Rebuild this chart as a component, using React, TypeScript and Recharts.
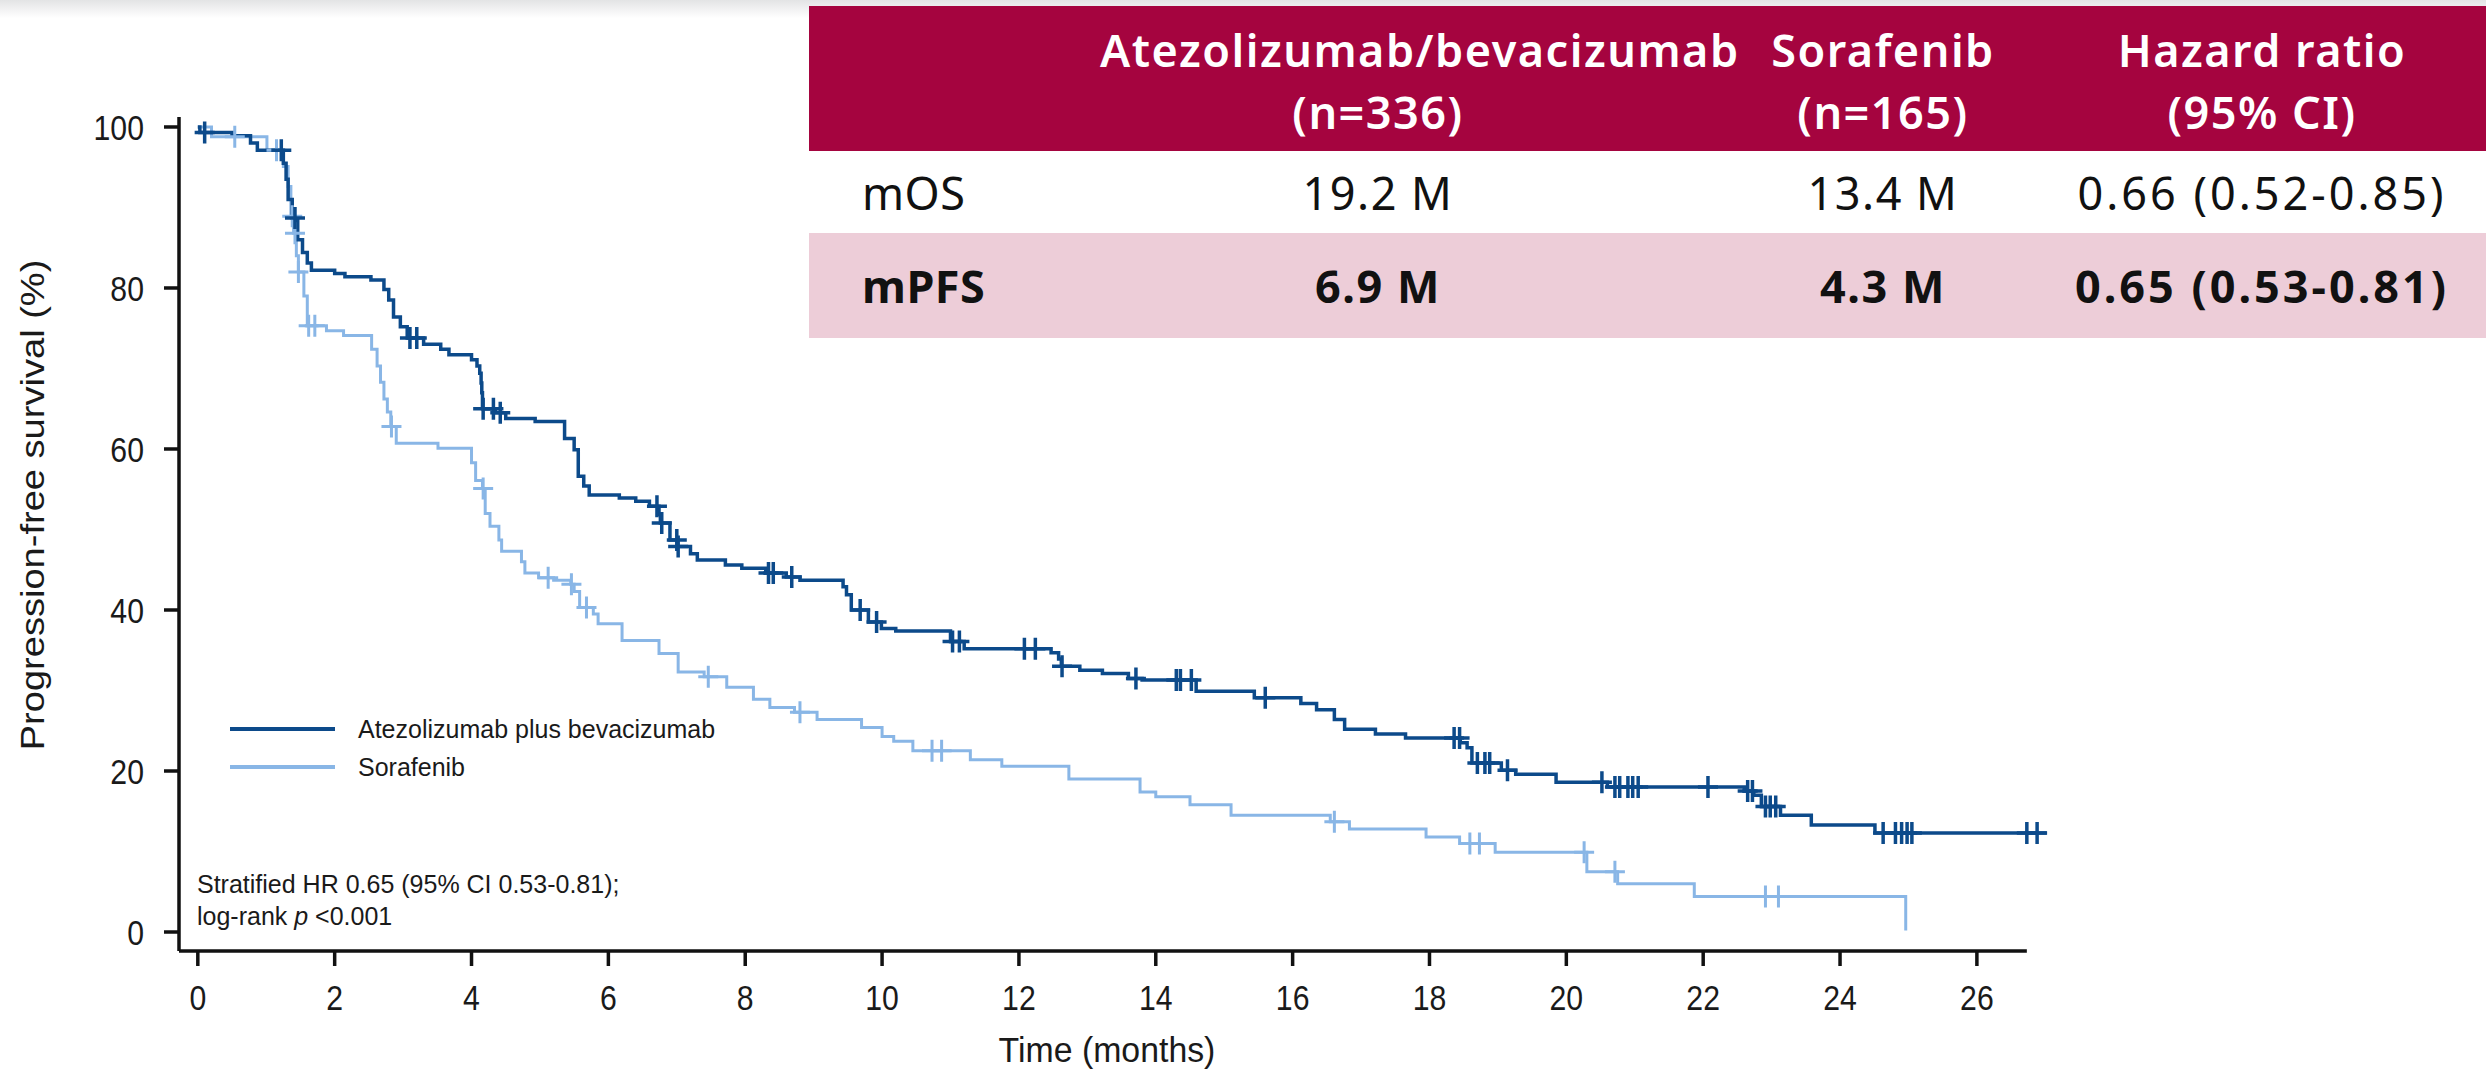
import React from "react";
import { ComposedChart, Line, XAxis, YAxis, ReferenceLine, Legend, Label } from "recharts";

// Kaplan-Meier step points (time in months, PFS %)
const atezoTime = [
  0, 0.03, 0.5, 0.77, 0.87, 1.25, 1.29, 1.32, 1.38, 1.46, 1.53, 1.6, 1.66, 2.0, 2.15, 2.53, 2.72, 2.79, 2.86, 2.96,
  3.06, 3.3, 3.55, 3.67, 4.0, 4.08, 4.12, 4.14, 4.15, 4.16, 4.35, 4.5, 4.93, 5.36, 5.5, 5.56, 5.64, 5.72, 6.16, 6.4,
  6.6, 6.74, 6.76, 6.9, 7.01, 7.2, 7.3, 7.71, 7.95, 8.3, 8.6, 8.8, 9.43, 9.48, 9.55, 9.8, 9.99, 10.2, 11.0, 11.2,
  12.47, 12.58, 12.62, 12.89, 13.22, 13.6, 13.8, 14.59, 15.44, 16.12, 16.35, 16.61, 16.76, 17.21, 17.65, 18.45, 18.55,
  18.62, 19.05, 19.26, 19.85, 20.6, 22.6, 22.74, 22.85, 23.13, 23.58, 24.51, 27.02,
];
const atezoSurv = [
  100, 99.3, 98.9, 98.0, 97.1, 95.5, 93.5, 91.0, 88.7, 86.0, 84.4, 83.1, 82.2, 81.8, 81.4, 81.0, 79.8, 78.5, 76.4, 75.2,
  73.8, 73.0, 72.4, 71.7, 71.1, 70.3, 69.4, 68.2, 67.0, 65.0, 64.5, 63.8, 63.4, 61.3, 59.9, 56.6, 55.4, 54.3, 53.9, 53.5,
  52.9, 51.9, 50.8, 48.7, 47.9, 47.0, 46.2, 45.6, 45.2, 44.6, 44.1, 43.7, 42.9, 41.9, 40.0, 38.5, 37.7, 37.4, 36.1, 35.2,
  34.7, 33.9, 33.0, 32.5, 32.1, 31.5, 31.3, 29.9, 29.1, 28.4, 27.6, 26.4, 25.2, 24.6, 24.1, 23.5, 22.9,
  21.0, 20.1, 19.6, 18.6, 18.0, 17.5, 17.0, 15.6, 14.5, 13.3, 12.3, 12.3,
];
const atezoCensor = [
  0.1, 1.22, 1.42, 3.1, 3.2, 4.17, 4.32, 4.42, 6.71, 6.78, 7.0, 7.02, 8.34, 8.41, 8.68, 9.68, 9.92, 11.03, 11.13,
  12.08, 12.24, 12.63, 13.71, 14.3, 14.36, 14.52, 15.6, 18.36, 18.44, 18.7, 18.81, 18.88, 19.14, 20.52, 20.71, 20.78,
  20.9, 20.97, 21.05, 22.07, 22.65, 22.72, 22.91, 22.98, 23.06, 24.63, 24.81, 24.9, 24.98, 25.05, 26.73, 26.88,
];

const soraTime = [
  0, 0.2, 1.01, 1.25, 1.32, 1.36, 1.4, 1.44, 1.47, 1.55, 1.6, 1.88, 2.13, 2.54, 2.62, 2.67, 2.72, 2.77, 2.82, 2.9,
  3.51, 4.0, 4.06, 4.16, 4.2, 4.27, 4.4, 4.44, 4.73, 4.78, 4.98, 5.2, 5.45, 5.5, 5.58, 5.78, 5.85, 6.2, 6.74, 7.02,
  7.4, 7.73, 8.12, 8.36, 8.72, 9.05, 9.7, 10.0, 10.17, 10.45, 11.29, 11.75, 12.73, 13.77, 14.0, 14.5, 15.1, 16.55,
  16.83, 17.95, 18.44, 18.96, 20.3, 20.75, 21.87, 24.96,
];
const soraSurv = [
  100, 98.8, 97.1, 95.1, 92.6, 88.9, 86.8, 84.0, 82.0, 79.0, 75.3, 74.7, 74.1, 72.4, 70.3, 68.3, 66.2, 64.6, 62.8, 60.7,
  60.1, 58.3, 56.1, 55.1, 52.0, 50.4, 48.7, 47.3, 46.0, 44.6, 44.0, 43.7, 43.2, 42.3, 40.3, 39.5, 38.3, 36.2, 34.6, 32.3,
  31.7, 30.4, 28.9, 27.9, 27.3, 26.4, 25.4, 24.3, 23.7, 22.5, 21.4, 20.6, 19.0, 17.4, 16.8, 15.8, 14.5, 13.7,
  12.8, 11.8, 11.0, 9.9, 7.5, 6.0, 4.4, 0.2,
];
const soraCensor = [
  0.54, 1.15, 1.38, 1.42, 1.47, 1.62, 1.71, 2.83, 4.17, 5.12, 5.46, 5.68, 7.46, 8.8, 10.73, 10.87, 16.61, 18.59,
  18.73, 20.26, 20.71, 22.91, 23.1,
];

const xTicks = [0, 2, 4, 6, 8, 10, 12, 14, 16, 18, 20, 22, 24, 26];
const yTicks = [0, 20, 40, 60, 80, 100];

const tableHead = [
  ["Atezolizumab/bevacizumab", "(n=336)"],
  ["Sorafenib", "(n=165)"],
  ["Hazard ratio", "(95% CI)"],
];
const mosRow = ["mOS", "19.2 M", "13.4 M", "0.66 (0.52-0.85)"];
const mpfsRow = ["mPFS", "6.9 M", "4.3 M", "0.65 (0.53-0.81)"];

const darkBlue = "#0c4a8a";
const lightBlue = "#89b6e6";
const crimson = "#a5043f";
const pink = "#edcdd8";
const chartFont = "'Liberation Sans', Arial, sans-serif";
const tableFont = "'Noto Sans', 'Open Sans', sans-serif";

// merge the step points with the censor marks (a censor mark sits on the curve)
const buildSeries = (time: number[], surv: number[], censor: number[]) => {
  const pts = time.map((t, i) => ({ t, s: surv[i], c: false }));
  censor.forEach((ct) => {
    let s = surv[0];
    time.forEach((t, i) => {
      if (t <= ct) s = surv[i];
    });
    pts.push({ t: ct, s, c: true });
  });
  return pts.sort((a, b) => a.t - b.t || (a.c ? 1 : -1));
};

const atezoData = buildSeries(atezoTime, atezoSurv, atezoCensor);
const soraData = buildSeries(soraTime, soraSurv, soraCensor);

const censorDot = (color: string, w: number) => (props: any) => {
  const { cx, cy, payload, index } = props;
  if (!payload || !payload.c) return <g key={`n-${index}`} />;
  return (
    <path
      key={`c-${index}`}
      d={`M${cx - 10},${cy}H${cx + 10}M${cx},${cy - 11}V${cy + 11}`}
      stroke={color}
      strokeWidth={w}
      fill="none"
    />
  );
};

const XTick = ({ x, y, payload }: any) => (
  <g transform={`translate(${x},${y})`}>
    <text transform="scale(0.84,1)" y={28} textAnchor="middle" fontFamily={chartFont} fontSize={36} fill="#1a1a1a">
      {payload.value}
    </text>
  </g>
);

const YTick = ({ x, y, payload }: any) => (
  <g transform={`translate(${x},${y})`}>
    <text transform="scale(0.84,1)" y={13} textAnchor="end" fontFamily={chartFont} fontSize={36} fill="#1a1a1a">
      {payload.value}
    </text>
  </g>
);

const renderLegend = () => (
  <svg width={560} height={80} style={{ display: "block" }}>
    <line x1={0} x2={105} y1={19} y2={19} stroke={darkBlue} strokeWidth={4} />
    <line x1={0} x2={105} y1={57} y2={57} stroke={lightBlue} strokeWidth={4} />
    <text x={128} y={28} fontFamily={chartFont} fontSize={25} fill="#1a1a1a">
      Atezolizumab plus bevacizumab
    </text>
    <text x={128} y={66} fontFamily={chartFont} fontSize={25} fill="#1a1a1a">
      Sorafenib
    </text>
  </svg>
);

const headCell: React.CSSProperties = {
  textAlign: "center",
  color: "#fff",
  fontWeight: 600,
  lineHeight: "62px",
  whiteSpace: "nowrap",
};
const colWidths = [291, 556, 454, 304, 72];
const colSpacing = [0.5, 1.5, 1.5, 3, 0];

const BodyRow = ({ cells, bold, bg, height }: { cells: string[]; bold: boolean; bg: string; height: number }) => (
  <div style={{ display: "flex", alignItems: "center", height, background: bg, fontWeight: bold ? 700 : 400 }}>
    {cells.map((c, i) => (
      <div
        key={c}
        style={{
          width: colWidths[i],
          flexShrink: 0,
          display: "flex",
          justifyContent: i === 0 ? "flex-start" : "center",
          paddingLeft: i === 0 ? 53 : 0,
          letterSpacing: colSpacing[i],
          boxSizing: "border-box",
          whiteSpace: "nowrap",
        }}
      >
        <span style={{ flexShrink: 0 }}>{c}</span>
      </div>
    ))}
  </div>
);

export default function App() {
  return (
    <div style={{ position: "absolute", left: 0, top: 0, width: 2486, height: 1073, background: "#fff", overflow: "hidden" }}>
      <div style={{ position: "absolute", left: 0, top: 0, width: 2486, height: 18, background: "linear-gradient(#e3e4e5, #ffffff)" }} />

      <ComposedChart width={2486} height={1073} margin={{ top: 117, right: 427, bottom: 0, left: 0 }}>
        <XAxis
          type="number"
          dataKey="t"
          domain={[-0.275, 27.2]}
          ticks={xTicks}
          height={122}
          axisLine={false}
          tickSize={15}
          tickMargin={16}
          tickLine={{ stroke: "#111", strokeWidth: 3.5 }}
          tick={<XTick />}
          interval={0}
        >
          <Label
            content={() => (
              <text transform="translate(1107,1062) scale(0.94,1)" textAnchor="middle" fontFamily={chartFont} fontSize={36} fill="#1a1a1a">
                Time (months)
              </text>
            )}
          />
        </XAxis>
        <YAxis
          type="number"
          dataKey="s"
          domain={[-2.36, 101.24]}
          ticks={yTicks}
          width={179}
          axisLine={{ stroke: "#111", strokeWidth: 3.5 }}
          tickSize={15}
          tickMargin={20}
          tickLine={{ stroke: "#111", strokeWidth: 3.5 }}
          tick={<YTick />}
          interval={0}
        >
          <Label
            content={() => (
              <text
                transform="translate(44,505) rotate(-90) scale(1.12,1)"
                textAnchor="middle"
                fontFamily={chartFont}
                fontSize={34}
                fill="#1a1a1a"
              >
                Progression-free survival (%)
              </text>
            )}
          />
        </YAxis>
        <ReferenceLine
          segment={[
            { x: -0.275, y: -2.36 },
            { x: 26.73, y: -2.36 },
          ]}
          stroke="#111"
          strokeWidth={3.5}
        />
        <Legend
          verticalAlign="middle"
          align="center"
          content={renderLegend}
          wrapperStyle={{ position: "absolute", left: 230, top: 710, width: 560, height: 80 }}
        />
        <Line
          data={soraData}
          type="stepAfter"
          dataKey="s"
          name="Sorafenib"
          stroke={lightBlue}
          strokeWidth={3}
          dot={censorDot(lightBlue, 3)}
          activeDot={false}
          isAnimationActive={false}
        />
        <Line
          data={atezoData}
          type="stepAfter"
          dataKey="s"
          name="Atezolizumab plus bevacizumab"
          stroke={darkBlue}
          strokeWidth={3.5}
          dot={censorDot(darkBlue, 3.5)}
          activeDot={false}
          isAnimationActive={false}
        />
      </ComposedChart>

      <div
        style={{
          position: "absolute",
          left: 197,
          top: 868,
          fontFamily: chartFont,
          fontSize: 25,
          lineHeight: "32px",
          color: "#1a1a1a",
        }}
      >
        <div>Stratified HR 0.65 (95% CI 0.53-0.81);</div>
        <div>
          log-rank <i>p</i> &lt;0.001
        </div>
      </div>

      <div
        style={{
          position: "absolute",
          left: 809,
          top: 6,
          width: 1677,
          fontFamily: tableFont,
          fontSize: 45,
          letterSpacing: 1.5,
          color: "#111",
        }}
      >
        <div style={{ display: "flex", height: 145, background: crimson, paddingTop: 13, boxSizing: "border-box" }}>
          <div style={{ width: colWidths[0], flexShrink: 0 }} />
          {tableHead.map((h, i) => (
            <div key={h[0]} style={{ ...headCell, width: colWidths[i + 1], flexShrink: 0 }}>
              <div>{h[0]}</div>
              <div>{h[1]}</div>
            </div>
          ))}
        </div>
        <BodyRow cells={mosRow} bold={false} bg="#fff" height={82} />
        <BodyRow cells={mpfsRow} bold={true} bg={pink} height={105} />
      </div>
    </div>
  );
}
